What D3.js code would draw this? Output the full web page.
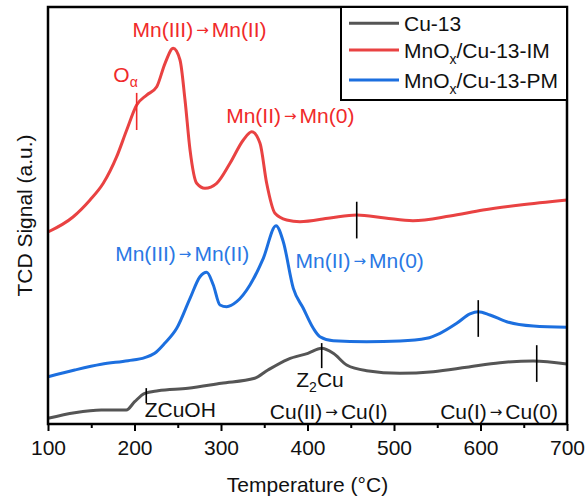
<!DOCTYPE html>
<html>
<head>
<meta charset="utf-8">
<script src="https://cdn.jsdelivr.net/npm/d3@7/dist/d3.min.js"></script>
<style>
  html, body { margin: 0; padding: 0; background: #fff; }
  svg { display: block; font-family: "Liberation Sans", Arial, sans-serif; }
</style>
</head>
<body>
<svg id="chart" width="585" height="498"></svg>
<script>
// TPR profiles: temperature (°C) and TCD signal (a.u.)
const cuTemp = [100, 130.9, 161.6, 190.5, 200.2, 211.8, 227.2, 261.8, 300.3, 338.9, 354.3, 377.4, 400.5, 416.4, 429.8, 445.3, 468.4, 506.9, 545.4, 584.0, 622.5, 661.0, 700];
const cuSignal = [1.37, 2.71, 3.36, 3.36, 5.35, 7.36, 7.99, 8.56, 9.76, 10.96, 12.95, 15.52, 16.95, 18.15, 16.95, 14.15, 12.78, 12.16, 12.54, 13.60, 14.70, 15.11, 14.39];

const imTemp = [100, 128.9, 148.6, 163.9, 179.4, 191.0, 202.5, 214.1, 225.7, 235.3, 244.8, 252.6, 258.4, 264.2, 271.9, 281.5, 295.0, 310.4, 325.8, 335.5, 345.1, 352.8, 362.4, 375.9, 391.3, 426.0, 456.9, 489.6, 521.9, 564.7, 602.9, 645.7, 700];
const imSignal = [46.04, 49.64, 53.72, 57.72, 64.10, 70.50, 76.50, 78.89, 80.88, 86.50, 90.09, 87.29, 77.70, 65.71, 57.72, 56.52, 57.72, 62.52, 68.10, 70.09, 67.31, 57.72, 50.53, 48.92, 48.51, 49.40, 50.12, 49.40, 48.75, 49.88, 51.32, 52.52, 53.72];

const pmTemp = [100, 130.9, 161.6, 192.5, 211.8, 223.3, 234.9, 248.8, 264.2, 275.7, 283.5, 291.1, 298.8, 306.6, 318.1, 333.5, 348.9, 363.6, 372.0, 383.6, 395.1, 406.7, 414.4, 429.8, 468.4, 506.9, 537.8, 553.2, 572.5, 587.8, 597.4, 610.9, 630.3, 661.0, 700];
const pmSignal = [11.34, 12.95, 14.32, 15.18, 15.90, 16.95, 19.35, 22.95, 30.14, 35.32, 36.38, 33.33, 28.54, 28.13, 29.33, 33.33, 39.74, 47.55, 43.72, 32.54, 27.75, 22.95, 20.93, 19.98, 19.74, 19.90, 20.55, 21.75, 24.15, 26.38, 26.93, 26.14, 24.53, 23.50, 23.19];

const seriesNames = ["Cu-13", "MnOx/Cu-13-IM", "MnOx/Cu-13-PM"];
const majorTicks = [100, 200, 300, 400, 500, 600, 700];
const minorTicks = [150, 250, 350, 450, 550, 650];

// Peak markers: temperature, signal range
const markerTemp = [202.5, 456.9, 597.4, 416.4, 665.0, 213.6];
const markerLow = [70.5, 44.5, 20.9, 13.4, 10.1, 5.0];
const markerHigh = [79.4, 53.3, 29.7, 19.4, 18.9, 8.6];

const colors = { cu: "#555555", im: "#e94242", pm: "#1c6fdf" };
const textRed = "#f02a2a", textBlue = "#2a78e4";

const svg = d3.select("#chart");
const plotLeft = 48, plotRight = 567, plotTop = 7, plotBottom = 424;
const x = d3.scaleLinear().domain([100, 700]).range([plotLeft, plotRight]);
const y = d3.scaleLinear().domain([0, 100]).range([plotBottom, plotTop]);

const line = d3.line().x(d => x(d[0])).y(d => y(d[1])).curve(d3.curveMonotoneX);
const zip = (a, b) => a.map((v, i) => [v, b[i]]);

const series = [
  { pts: zip(cuTemp, cuSignal), color: colors.cu },
  { pts: zip(imTemp, imSignal), color: colors.im },
  { pts: zip(pmTemp, pmSignal), color: colors.pm }
];

svg.append("g").selectAll("path").data(series).join("path")
  .attr("d", d => line(d.pts))
  .attr("fill", "none")
  .attr("stroke", d => d.color)
  .attr("stroke-width", 3)
  .attr("stroke-linejoin", "round");

// vertical peak markers
const markerColors = [textRed, "#000", "#000", "#000", "#000", "#000"];
svg.append("g").selectAll("line").data(markerTemp).join("line")
  .attr("x1", d => x(d)).attr("x2", d => x(d))
  .attr("y1", (d, i) => y(markerLow[i])).attr("y2", (d, i) => y(markerHigh[i]))
  .attr("stroke", (d, i) => markerColors[i])
  .attr("stroke-width", 1.6);

// x axis
const xAxis = svg.append("g").attr("transform", `translate(0,${plotBottom})`)
  .call(d3.axisBottom(x).tickValues(majorTicks).tickSize(7).tickPadding(9).tickFormat(d3.format("d")));
xAxis.select(".domain").remove();
xAxis.selectAll(".tick line").attr("stroke", "#000").attr("stroke-width", 2);
xAxis.selectAll(".tick text").attr("font-size", 21).attr("fill", "#111")
  .style("font-family", "'Liberation Sans', Arial, sans-serif");
const xMinor = svg.append("g").attr("transform", `translate(0,${plotBottom})`)
  .call(d3.axisBottom(x).tickValues(minorTicks).tickSize(4).tickFormat(""));
xMinor.select(".domain").remove();
xMinor.selectAll(".tick line").attr("stroke", "#000").attr("stroke-width", 2);

// frame
svg.append("rect")
  .attr("x", plotLeft).attr("y", plotTop).attr("width", plotRight - plotLeft).attr("height", plotBottom - plotTop)
  .attr("fill", "none").attr("stroke", "#000").attr("stroke-width", 2.5);

// axis titles
svg.append("text").attr("x", (plotLeft + plotRight) / 2).attr("y", 492)
  .attr("text-anchor", "middle").attr("font-size", 21).attr("fill", "#111")
  .text("Temperature (°C)");
svg.append("text").attr("transform", `translate(32,${(plotTop + plotBottom) / 2}) rotate(-90)`)
  .attr("text-anchor", "middle").attr("font-size", 21).attr("fill", "#111")
  .text("TCD Signal (a.u.)");

// annotation helper: parts are [text, kind] where kind is "n", "sub" or "arrow"
function label(parts, px, py, color, anchor) {
  const t = svg.append("text").attr("x", px).attr("y", py)
    .attr("text-anchor", anchor || "middle").attr("font-size", 21).attr("fill", color);
  let shift = 0;
  parts.forEach(([s, kind]) => {
    const sp = t.append("tspan").text(s);
    if (kind === "sub") { sp.attr("font-size", 14).attr("dy", 5 - shift); shift = 5; }
    else if (kind === "arrow") {
      sp.attr("font-size", 15).style("font-family", "'DejaVu Sans', sans-serif")
        .attr("dy", -2 - shift);
      shift = -2;
    }
    else { sp.attr("dy", 0 - shift); shift = 0; }
  });
  return t;
}

label([["Mn(III)", "n"], ["\u2009\u2192\u2009", "arrow"], ["Mn(II)", "n"]], 199.5, 37, textRed);
label([["O", "n"], ["\u03b1", "sub"]], 113.3, 81.7, textRed, "start");
label([["Mn(II)", "n"], ["\u2009\u2192\u2009", "arrow"], ["Mn(0)", "n"]], 290.3, 123.3, textRed);
label([["Mn(III)", "n"], ["\u2009\u2192\u2009", "arrow"], ["Mn(II)", "n"]], 182.2, 261, textBlue);
label([["Mn(II)", "n"], ["\u2009\u2192\u2009", "arrow"], ["Mn(0)", "n"]], 359.7, 268.3, textBlue);
label([["ZCuOH", "n"]], 144.7, 416.7, "#111", "start");
label([["Z", "n"], ["2", "sub"], ["Cu", "n"]], 320, 387.3, "#111");
label([["Cu(II)", "n"], ["\u2009\u2192\u2009", "arrow"], ["Cu(I)", "n"]], 328.7, 419.3, "#111");
label([["Cu(I)", "n"], ["\u2009\u2192\u2009", "arrow"], ["Cu(0)", "n"]], 499, 419.3, "#111");

// legend
const lg = svg.append("g");
lg.append("rect").attr("x", 341).attr("y", plotTop).attr("width", plotRight - 341).attr("height", 93)
  .attr("fill", "#fff").attr("stroke", "#000").attr("stroke-width", 2);
const legendY = [23.3, 50, 80];
const legendColors = [colors.cu, colors.im, colors.pm];
seriesNames.forEach((name, i) => {
  lg.append("line").attr("x1", 349).attr("x2", 399).attr("y1", legendY[i]).attr("y2", legendY[i])
    .attr("stroke", legendColors[i]).attr("stroke-width", 3);
  const t = lg.append("text").attr("x", 404).attr("y", legendY[i] + 7.5)
    .attr("font-size", 21).attr("fill", "#111");
  const m = name.match(/^(MnO)x(.*)$/);
  if (m) {
    t.append("tspan").text(m[1]);
    t.append("tspan").text("x").attr("font-size", 14).attr("dy", 6);
    t.append("tspan").text(m[2]).attr("dy", -6);
  } else {
    t.text(name);
  }
});
</script>
</body>
</html>
